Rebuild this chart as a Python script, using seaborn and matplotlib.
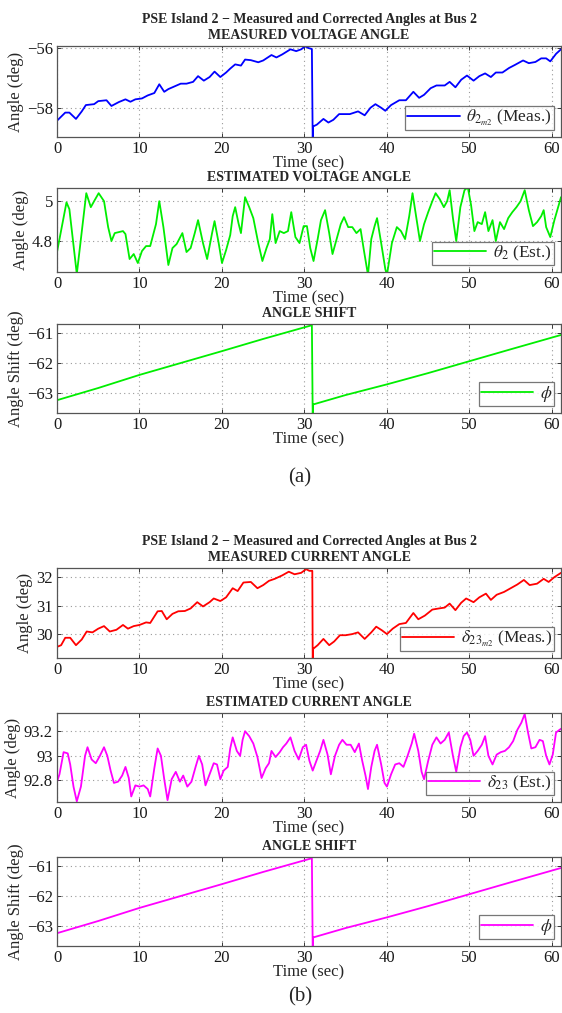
import numpy as np
import pandas as pd
import matplotlib
matplotlib.use("Agg")
import matplotlib.pyplot as plt
import seaborn as sns
from matplotlib.ticker import FuncFormatter

# ---------------- data ----------------
x_ticks = [0, 10, 20, 30, 40, 50, 60]

# measured voltage angle theta_2m2 (deg)
meas_v_t = [0, 1.0, 1.5, 2.3, 3.0, 3.5, 4.5, 5.0, 6.0, 6.6, 7.5, 8.3, 8.9, 9.5, 10.3, 11.0, 11.8,
            12.4, 13.0, 13.5, 15.0, 15.7, 16.5, 17.1, 17.8, 18.5, 19.1, 19.8, 20.5, 21.0, 21.6,
            22.3, 22.8, 23.5, 24.4, 25.0, 26.0, 26.6, 27.3, 28.3, 29.0, 29.6, 30.1, 30.5, 30.9,
            31.0, 31.05, 31.5, 32.3, 32.9, 33.5, 34.2, 35.5, 36.5, 37.3, 38.0, 38.6, 39.3, 39.8,
            40.5, 41.5, 42.3, 43.2, 43.9, 44.5, 45.3, 46.0, 47.0, 47.6, 48.3, 49.0, 49.7, 50.5,
            51.2, 51.9, 52.6, 53.2, 54.0, 54.8, 55.5, 56.5, 57.2, 58.0, 58.7, 59.3, 59.8, 60.5, 61.1]
meas_v = [-58.43, -58.16, -58.16, -58.37, -58.12, -57.91, -57.88, -57.78, -57.75, -57.94, -57.81,
          -57.72, -57.80, -57.72, -57.69, -57.59, -57.51, -57.22, -57.47, -57.38, -57.20, -57.20,
          -57.14, -56.95, -57.10, -56.98, -56.80, -56.98, -56.83, -56.70, -56.56, -56.60, -56.40,
          -56.42, -56.49, -56.43, -56.25, -56.33, -56.23, -56.06, -56.12, -56.06, -55.96, -56.02,
          -56.05, -59.10, -58.62, -58.56, -58.37, -58.49, -58.40, -58.21, -58.21, -58.12, -58.25,
          -58.00, -57.88, -58.00, -58.10, -57.91, -57.75, -57.75, -57.47, -57.67, -57.57, -57.35,
          -57.26, -57.26, -57.14, -57.32, -57.07, -56.93, -57.10, -56.95, -56.86, -56.98, -56.83,
          -56.83, -56.68, -56.58, -56.43, -56.52, -56.48, -56.36, -56.36, -56.46, -56.21, -56.06]

# estimated voltage angle theta_2 (deg)
est_v_t = [0, 1.15, 1.5, 2.4, 3.55, 4.1, 4.5, 5.05, 5.7, 6.2, 6.6, 7.0, 7.5, 8.0, 8.3, 8.8, 9.3,
           9.8, 10.3, 10.8, 11.3, 12.0, 12.4, 12.9, 13.5, 14.0, 14.5, 15.2, 15.7, 16.2, 16.7, 17.1,
           17.7, 18.2, 18.8, 19.1, 19.6, 20.0, 20.5, 21.0, 21.3, 21.6, 22.0, 22.3, 22.8, 23.3, 23.8,
           24.4, 24.9, 25.4, 25.8, 26.1, 26.5, 27.0, 27.5, 28.0, 28.4, 28.9, 29.4, 29.9, 30.3, 30.7,
           31.1, 31.6, 32.0, 32.5, 33.0, 33.4, 33.9, 34.4, 34.8, 35.3, 35.8, 36.3, 36.8, 37.2, 37.7,
           38.1, 38.5, 38.8, 39.3, 39.8, 40.0, 40.6, 41.2, 41.7, 42.2, 42.7, 43.1, 43.6, 44.0, 44.5,
           45.0, 45.5, 45.9, 46.4, 46.9, 47.3, 47.6, 48.0, 48.4, 48.9, 49.4, 49.8, 50.2, 50.6, 51.0,
           51.5, 51.9, 52.3, 52.8, 53.2, 53.7, 54.2, 54.7, 55.2, 55.7, 56.2, 56.7, 57.2, 57.7, 58.2,
           58.7, 59.0, 59.3, 59.8, 60.3, 61.1]
est_v = [4.745, 4.994, 4.96, 4.635, 5.04, 4.97, 5.0, 5.04, 5.0, 4.87, 4.80, 4.84, 4.845, 4.85,
         4.835, 4.71, 4.735, 4.69, 4.75, 4.775, 4.775, 4.885, 5.0, 4.87, 4.68, 4.765, 4.785, 4.84,
         4.745, 4.765, 4.84, 4.905, 4.79, 4.71, 4.84, 4.90, 4.79, 4.69, 4.755, 4.83, 4.925, 4.97,
         4.89, 4.84, 5.02, 4.97, 4.915, 4.79, 4.70, 4.765, 4.81, 4.935, 4.79, 4.85, 4.84, 4.85,
         4.945, 4.82, 4.79, 4.875, 4.875, 4.765, 4.70, 4.81, 4.905, 4.955, 4.84, 4.735, 4.81,
         4.885, 4.92, 4.87, 4.87, 4.84, 4.86, 4.755, 4.63, 4.81, 4.875, 4.915, 4.79, 4.66, 4.63,
         4.79, 4.87, 4.85, 4.81, 4.925, 5.04, 4.905, 4.80, 4.885, 4.945, 5.0, 5.04, 5.01, 4.97,
         5.0, 5.055, 4.915, 4.80, 4.97, 5.055, 5.07, 4.98, 4.85, 4.895, 4.885, 4.945, 4.85, 4.905,
         4.80, 4.895, 4.86, 4.915, 4.945, 4.97, 5.0, 5.055, 4.955, 4.875, 4.895, 4.925, 4.955,
         4.87, 4.82, 4.905, 5.02]

# angle shift phi (deg)
phi_t = [0, 5, 10, 15, 20, 25, 30.9, 31.0, 31.05, 35, 40, 45, 50, 55, 61.1]
phi = [-63.22, -62.82, -62.39, -62.00, -61.61, -61.21, -60.76, -63.75, -63.36, -63.05, -62.70,
       -62.33, -61.94, -61.55, -61.08]

# measured current angle delta_23m2 (deg)
meas_c_t = [0, 0.5, 1.0, 1.6, 2.3, 3.0, 3.6, 4.3, 5.0, 5.7, 6.4, 7.2, 8.0, 8.6, 9.3, 10.0, 10.8,
            11.3, 12.2, 12.7, 13.3, 14.0, 14.7, 15.5, 16.2, 17.0, 17.7, 18.5, 19.0, 19.8, 20.5,
            21.3, 21.9, 22.6, 23.5, 24.3, 25.0, 25.7, 26.4, 27.3, 28.1, 28.8, 29.6, 30.2, 30.6,
            30.95, 31.0, 31.05, 31.6, 32.3, 33.0, 33.6, 34.3, 35.0, 35.8, 36.5, 37.3, 38.1, 38.7,
            39.4, 40.0, 40.7, 41.5, 42.3, 43.2, 43.8, 44.6, 45.5, 46.3, 47.0, 47.6, 48.3, 49.0,
            49.6, 50.5, 51.2, 52.0, 52.6, 53.3, 54.2, 55.0, 55.8, 56.6, 57.3, 58.2, 59.0, 59.6,
            60.3, 61.1]
meas_c = [29.55, 29.61, 29.87, 29.87, 29.61, 29.81, 30.09, 30.06, 30.19, 30.28, 30.09, 30.15,
          30.32, 30.19, 30.28, 30.32, 30.41, 30.39, 30.80, 30.81, 30.52, 30.71, 30.80, 30.81,
          30.90, 31.12, 30.97, 31.12, 31.25, 31.16, 31.29, 31.61, 31.51, 31.81, 31.83, 31.61,
          31.72, 31.87, 31.94, 32.06, 32.19, 32.10, 32.15, 32.28, 32.22, 32.22, 29.05, 29.48,
          29.61, 29.83, 29.61, 29.74, 29.96, 29.96, 30.00, 30.06, 29.83, 30.06, 30.26, 30.13,
          30.00, 30.19, 30.35, 30.39, 30.74, 30.52, 30.65, 30.86, 30.90, 30.93, 31.07, 30.84,
          31.10, 31.25, 31.12, 31.29, 31.42, 31.20, 31.38, 31.48, 31.61, 31.74, 31.90, 31.72,
          31.77, 31.94, 31.83, 32.00, 32.15]

# estimated current angle delta_23 (deg)
est_c_t = [0, 0.3, 0.8, 1.3, 1.6, 2.0, 2.4, 2.9, 3.4, 3.7, 4.2, 4.7, 5.2, 5.7, 6.1, 6.5, 6.9, 7.4,
           7.9, 8.3, 8.7, 9.0, 9.5, 10.0, 10.5, 11.0, 11.3, 11.8, 12.2, 12.6, 13.0, 13.4, 13.9, 14.4,
           14.9, 15.3, 15.8, 16.3, 16.8, 17.2, 17.6, 18.0, 18.5, 19.0, 19.4, 19.8, 20.2, 20.7, 21.0,
           21.3, 21.8, 22.2, 22.5, 22.8, 23.3, 23.8, 24.3, 24.8, 25.3, 25.7, 26.0, 26.5, 27.0, 27.4,
           27.8, 28.3, 28.8, 29.3, 29.8, 30.2, 30.6, 31.0, 31.5, 31.9, 32.3, 32.8, 33.2, 33.7, 34.2,
           34.6, 35.1, 35.6, 36.1, 36.6, 37.0, 37.4, 37.7, 38.1, 38.5, 38.8, 39.3, 39.7, 40.0, 40.5,
           41.0, 41.5, 42.0, 42.5, 43.0, 43.3, 43.8, 44.2, 44.5, 45.0, 45.5, 46.0, 46.5, 47.0, 47.5,
           48.0, 48.4, 48.9, 49.3, 49.7, 50.1, 50.5, 51.0, 51.5, 51.9, 52.3, 52.8, 53.3, 53.8, 54.3,
           54.8, 55.3, 55.8, 56.3, 56.7, 57.1, 57.5, 58.0, 58.5, 58.9, 59.3, 59.7, 60.1, 60.5, 61.1]
est_c = [92.79, 92.85, 93.03, 93.02, 92.93, 92.75, 92.63, 92.75, 93.00, 93.07, 92.97, 92.94,
         93.00, 93.07, 93.00, 92.88, 92.78, 92.79, 92.84, 92.91, 92.82, 92.67, 92.76, 92.75,
         92.76, 92.73, 92.67, 92.90, 93.06, 93.00, 92.81, 92.64, 92.81, 92.87, 92.79, 92.84,
         92.75, 92.79, 92.91, 93.00, 92.93, 92.76, 92.85, 92.94, 92.93, 92.81, 92.88, 92.91,
         93.06, 93.15, 93.04, 93.00, 93.13, 93.20, 93.16, 93.10, 92.99, 92.82, 92.90, 92.94,
         93.04, 92.99, 93.03, 93.07, 93.10, 93.15, 93.04, 92.97, 93.07, 93.09, 92.96, 92.88,
         92.97, 93.04, 93.13, 93.01, 92.85, 93.00, 93.09, 93.13, 93.09, 93.09, 93.03, 93.10,
         92.96, 92.84, 92.73, 92.91, 93.04, 93.09, 92.93, 92.78, 92.75, 92.85, 92.93, 92.94,
         92.91, 93.00, 93.10, 93.18, 93.04, 92.87, 92.81, 92.96, 93.09, 93.15, 93.10, 93.13,
         93.19, 93.00, 92.87, 93.07, 93.16, 93.19, 93.13, 93.00, 93.04, 93.09, 93.16, 93.00,
         92.93, 93.01, 93.03, 93.04, 93.07, 93.12, 93.21, 93.27, 93.34, 93.19, 93.06, 93.07,
         93.13, 93.12, 93.00, 92.93, 93.01, 93.19, 93.22]

main_title = "PSE Island 2 \u2212 Measured and Corrected Angles at Bus 2"
panel_titles = ["MEASURED VOLTAGE ANGLE", "ESTIMATED VOLTAGE ANGLE", "ANGLE SHIFT",
                "MEASURED CURRENT ANGLE", "ESTIMATED CURRENT ANGLE", "ANGLE SHIFT"]
legend_labels = [r"$\theta_{2_{m2}}$ (Meas.)", r"$\theta_2$ (Est.)", r"$\phi$",
                 r"$\delta_{23_{m2}}$ (Meas.)", r"$\delta_{23}$ (Est.)", r"$\phi$"]
y_labels = ["Angle (deg)", "Angle (deg)", "Angle Shift (deg)",
            "Angle (deg)", "Angle (deg)", "Angle Shift (deg)"]
y_ticks = [[-58, -56], [4.8, 5.0], [-63, -62, -61], [30, 31, 32], [92.8, 93.0, 93.2], [-63, -62, -61]]

# ---------------- style ----------------
sns.set_theme(style="ticks")
plt.rcParams["font.family"] = ["Liberation Serif", "DejaVu Serif"]
plt.rcParams["mathtext.fontset"] = "stix"
plt.rcParams["axes.unicode_minus"] = True

W, H = 562, 1013
fig = plt.figure(figsize=(W / 100, H / 100), dpi=100)

# axes boxes in pixels: (top, bottom)
boxes = [(46, 137), (188, 272), (324, 413), (568, 658), (713, 802), (857, 946)]
left_px, right_px = 57, 561
ylims = [(-58.97, -55.95), (4.645, 5.066), (-63.64, -60.72),
         (29.16, 32.32), (92.625, 93.348), (-63.64, -60.72)]
colors = ["#0000ff", "#00ee00", "#00ee00", "#ff0000", "#ff00ff", "#ff00ff"]
series = [(meas_v_t, meas_v), (est_v_t, est_v), (phi_t, phi),
          (meas_c_t, meas_c), (est_c_t, est_c), (phi_t, phi)]

fmt = FuncFormatter(lambda v, p: ("%g" % round(v, 3)).replace("-", "\u2212"))

for i in range(6):
    top, bot = boxes[i]
    ax = fig.add_axes([left_px / W, 1 - bot / H, (right_px - left_px) / W, (bot - top) / H])
    t, v = series[i]
    df = pd.DataFrame({"t": t, "v": v})
    sns.lineplot(data=df, x="t", y="v", ax=ax, color=colors[i], lw=1.3,
                 estimator=None, sort=False, label=legend_labels[i])
    ax.set_xlim(0, 61.1)
    ax.set_ylim(*ylims[i])
    ax.set_xticks(x_ticks)
    ax.set_yticks(y_ticks[i])
    ax.yaxis.set_major_formatter(fmt)
    ax.grid(True, linestyle=(0, (1, 3)), color="#9a9a9a", lw=0.8)
    ax.tick_params(direction="in", length=3, width=0.6, top=True, right=True,
                   labelsize=12, colors="#1a1a1a", pad=3)
    for s in ax.spines.values():
        s.set_color("#555555")
        s.set_linewidth(0.9)
    ax.set_xlabel("Time (sec)", fontsize=12, labelpad=-1)
    ax.set_ylabel(y_labels[i], fontsize=12, labelpad=2)
    if i in (0, 3):
        ax.set_title(main_title + "\n" + panel_titles[i], fontsize=10, fontweight="bold",
                     pad=5, linespacing=1.3)
    else:
        ax.set_title(panel_titles[i], fontsize=10, fontweight="bold", pad=5)
    leg = ax.legend(loc="lower right", fontsize=12.5, frameon=True, fancybox=False,
                    handlelength=3.0, borderpad=0.12, borderaxespad=0.4, handletextpad=0.4)
    leg.get_frame().set_edgecolor("#555555")
    leg.get_frame().set_linewidth(0.9)

fig.text(300 / W, 1 - 478 / H, "(a)", ha="center", va="center", fontsize=15)
fig.text(300 / W, 1 - 997 / H, "(b)", ha="center", va="center", fontsize=15)

fig.savefig("out.png", dpi=100, facecolor="white")
